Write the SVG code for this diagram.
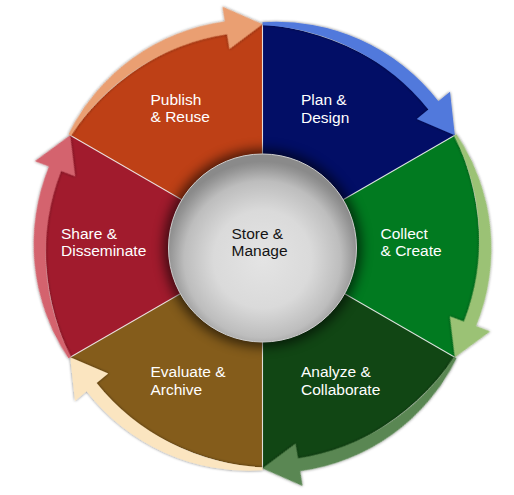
<svg xmlns="http://www.w3.org/2000/svg" width="514" height="495" viewBox="0 0 514 495">
  <defs>
    <style>
      .lbl{font-family:"Liberation Sans",Arial,Helvetica,sans-serif;font-size:15.5px;fill:#ffffff}
      .hub{fill:#141414}
      .sep{stroke:#f4f4f4;stroke-width:1.1;stroke-opacity:0.85}
      .arrow{filter:url(#shadow)}
    </style>
    <!-- one wedge of the wheel, drawn about the hub centre (0,0), spanning 0..60 degrees clockwise from 12 o'clock -->
    <path id="seg" d="M0,0 L0,-222 A262,262 0 0 1 192.26,-111 Z"/>
    <!-- curved arrow running along the outer rim of a wedge, head on the next vertex -->
    <path id="arr" d="M0,-224 A205,205 0 0 1 175.9,-145 L187.5,-154.6 L192.3,-111 L154.3,-127.2 L165.9,-136.8 A226,226 0 0 0 0,-221 Z"/>
    <filter id="shadow" x="-20%" y="-20%" width="140%" height="140%">
      <feGaussianBlur in="SourceAlpha" stdDeviation="1.8" result="b"/>
      <feComponentTransfer in="b" result="s"><feFuncA type="linear" slope="0.55"/></feComponentTransfer>
      <feMerge><feMergeNode in="s"/><feMergeNode in="SourceGraphic"/></feMerge>
    </filter>
    <filter id="haze" x="-30%" y="-30%" width="160%" height="160%">
      <feGaussianBlur stdDeviation="6"/>
    </filter>
    <filter id="wheelShade" x="-10%" y="-10%" width="120%" height="120%">
      <feGaussianBlur stdDeviation="2.5"/>
    </filter>
    <radialGradient id="sphere" cx="50%" cy="56%" r="52%">
      <stop offset="0" stop-color="#e4e4e4"/>
      <stop offset="0.5" stop-color="#dadada"/>
      <stop offset="0.8" stop-color="#bdbdbd"/>
      <stop offset="0.95" stop-color="#959595"/>
      <stop offset="1" stop-color="#8a8a8a"/>
    </radialGradient>
  </defs>

  <rect width="514" height="495" fill="#ffffff"/>

  <!-- soft shadow under the whole wheel -->
  <g id="wheel-shadow" fill="#000" opacity="0.25" filter="url(#wheelShade)">
    <use href="#seg" transform="translate(262.5 246.3) rotate(0)"/>
    <use href="#seg" transform="translate(262.5 246.3) rotate(60)"/>
    <use href="#seg" transform="translate(262.5 246.3) rotate(120)"/>
    <use href="#seg" transform="translate(262.5 246.3) rotate(180)"/>
    <use href="#seg" transform="translate(262.5 246.3) rotate(240)"/>
    <use href="#seg" transform="translate(262.5 246.3) rotate(300)"/>
  </g>

  <g id="plan-design">
    <use href="#seg" fill="#020E66" transform="translate(262.5 246.3) rotate(0)"/>
    <text class="lbl" x="301" y="105">Plan &amp;</text>
    <text class="lbl" x="301" y="122.5">Design</text>
  </g>

  <g id="collect-create">
    <use href="#seg" fill="#017A20" transform="translate(262.5 246.3) rotate(60)"/>
    <text class="lbl" x="380.5" y="238.5">Collect</text>
    <text class="lbl" x="380.5" y="256">&amp; Create</text>
  </g>

  <g id="analyze-collaborate">
    <use href="#seg" fill="#114614" transform="translate(262.5 246.3) rotate(120)"/>
    <text class="lbl" x="301" y="377">Analyze &amp;</text>
    <text class="lbl" x="301" y="394.5">Collaborate</text>
  </g>

  <g id="evaluate-archive">
    <use href="#seg" fill="#845C1B" transform="translate(262.5 246.3) rotate(180)"/>
    <text class="lbl" x="150.5" y="377">Evaluate &amp;</text>
    <text class="lbl" x="150.5" y="394.5">Archive</text>
  </g>

  <g id="share-disseminate">
    <use href="#seg" fill="#A11B2D" transform="translate(262.5 246.3) rotate(240)"/>
    <text class="lbl" x="61" y="238.5">Share &amp;</text>
    <text class="lbl" x="61" y="256">Disseminate</text>
  </g>

  <g id="publish-reuse">
    <use href="#seg" fill="#BE4016" transform="translate(262.5 246.3) rotate(300)"/>
    <text class="lbl" x="150.5" y="105">Publish</text>
    <text class="lbl" x="150.5" y="122">&amp; Reuse</text>
  </g>

  <!-- thin light dividers between wedges -->
  <g id="dividers" class="sep">
    <line x1="262.5" y1="246.3" x2="262.5" y2="24.3"/>
    <line x1="262.5" y1="246.3" x2="454.8" y2="135.3"/>
    <line x1="262.5" y1="246.3" x2="454.8" y2="357.3"/>
    <line x1="262.5" y1="246.3" x2="262.5" y2="468.3"/>
    <line x1="262.5" y1="246.3" x2="70.2" y2="357.3"/>
    <line x1="262.5" y1="246.3" x2="70.2" y2="135.3"/>
  </g>

  <!-- cycle arrows, clockwise round the rim -->
  <g id="connectors">
    <use class="arrow" href="#arr" fill="#5179DC" transform="translate(262.5 246.3) rotate(0)"/>
    <use class="arrow" href="#arr" fill="#9BC274" transform="translate(262.5 246.3) rotate(60)"/>
    <use class="arrow" href="#arr" fill="#5A8752" transform="translate(262.5 246.3) rotate(120)"/>
    <use class="arrow" href="#arr" fill="#FBE5C0" transform="translate(262.5 246.3) rotate(180)"/>
    <use class="arrow" href="#arr" fill="#D4646E" transform="translate(262.5 246.3) rotate(240)"/>
    <use class="arrow" href="#arr" fill="#EA9F72" transform="translate(262.5 246.3) rotate(300)"/>
  </g>

  <g id="store-manage">
    <circle cx="262.5" cy="248" r="99" fill="#000" opacity="0.6" filter="url(#haze)"/>
    <circle cx="262.5" cy="248" r="94" fill="url(#sphere)" stroke="#cfcfcf" stroke-width="1"/>
    <text class="lbl hub" x="231.5" y="238.5">Store &amp;</text>
    <text class="lbl hub" x="231.5" y="256">Manage</text>
  </g>
</svg>
